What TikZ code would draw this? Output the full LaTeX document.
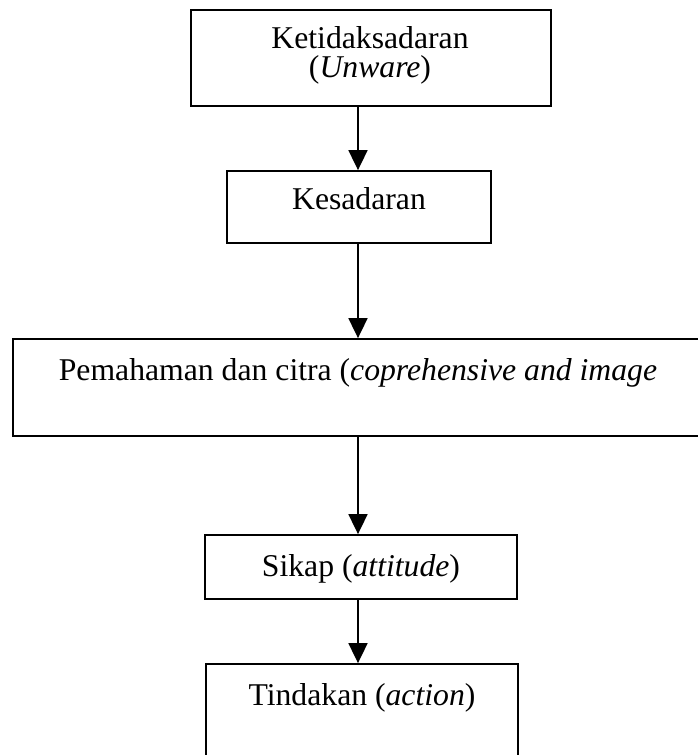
\documentclass[tikz,border=0pt]{standalone}
\usepackage{fontspec}
\setmainfont{Liberation Serif}
\usetikzlibrary{arrows.meta}
\begin{document}
\begin{tikzpicture}[x=1pt,y=-1pt,
  box/.style={draw=black,line width=1.8pt,inner sep=0pt,fill=none},
  txt/.style={inner sep=0pt,align=center,font=\fontsize{31.7}{31}\selectfont},
  arr/.style={line width=1.8pt,-{Triangle[width=19pt,length=20pt]}}]
\useasboundingbox[fill=white] (0,0) rectangle (697,755);
\coordinate (ax) at (358,0);
% boxes
\node[box,minimum width=360pt,minimum height=96pt] (b1) at (371,58) {};
\node[box,minimum width=264pt,minimum height=72pt] (b2) at (359,207) {};
\node[box,minimum width=700pt,minimum height=97pt] (b3) at (363,387.5) {};
\node[box,minimum width=312pt,minimum height=64pt] (b4) at (361,567) {};
\node[box,minimum width=312pt,minimum height=110pt] (b5) at (362,719) {};
% texts
\node[txt] (t1a) at (370,38) {Ketidaksadaran};
\node[txt] (t1b) at (370,70) {(\textit{Unware})};
\node[txt] (t2) at (359,199) {Kesadaran};
\node[txt] (t3) at (358,373) {Pemahaman dan citra (\textit{coprehensive and image}};
\node[txt] (t4) at (361,569) {Sikap (\textit{attitude})};
\node[txt] (t5) at (362,698) {Tindakan (\textit{action})};
% arrows
\draw[arr] (b1.south -| ax) -- (b2.north -| ax);
\draw[arr] (b2.south -| ax) -- (b3.north -| ax);
\draw[arr] (b3.south -| ax) -- (b4.north -| ax);
\draw[arr] (b4.south -| ax) -- (b5.north -| ax);
\end{tikzpicture}
\end{document}
